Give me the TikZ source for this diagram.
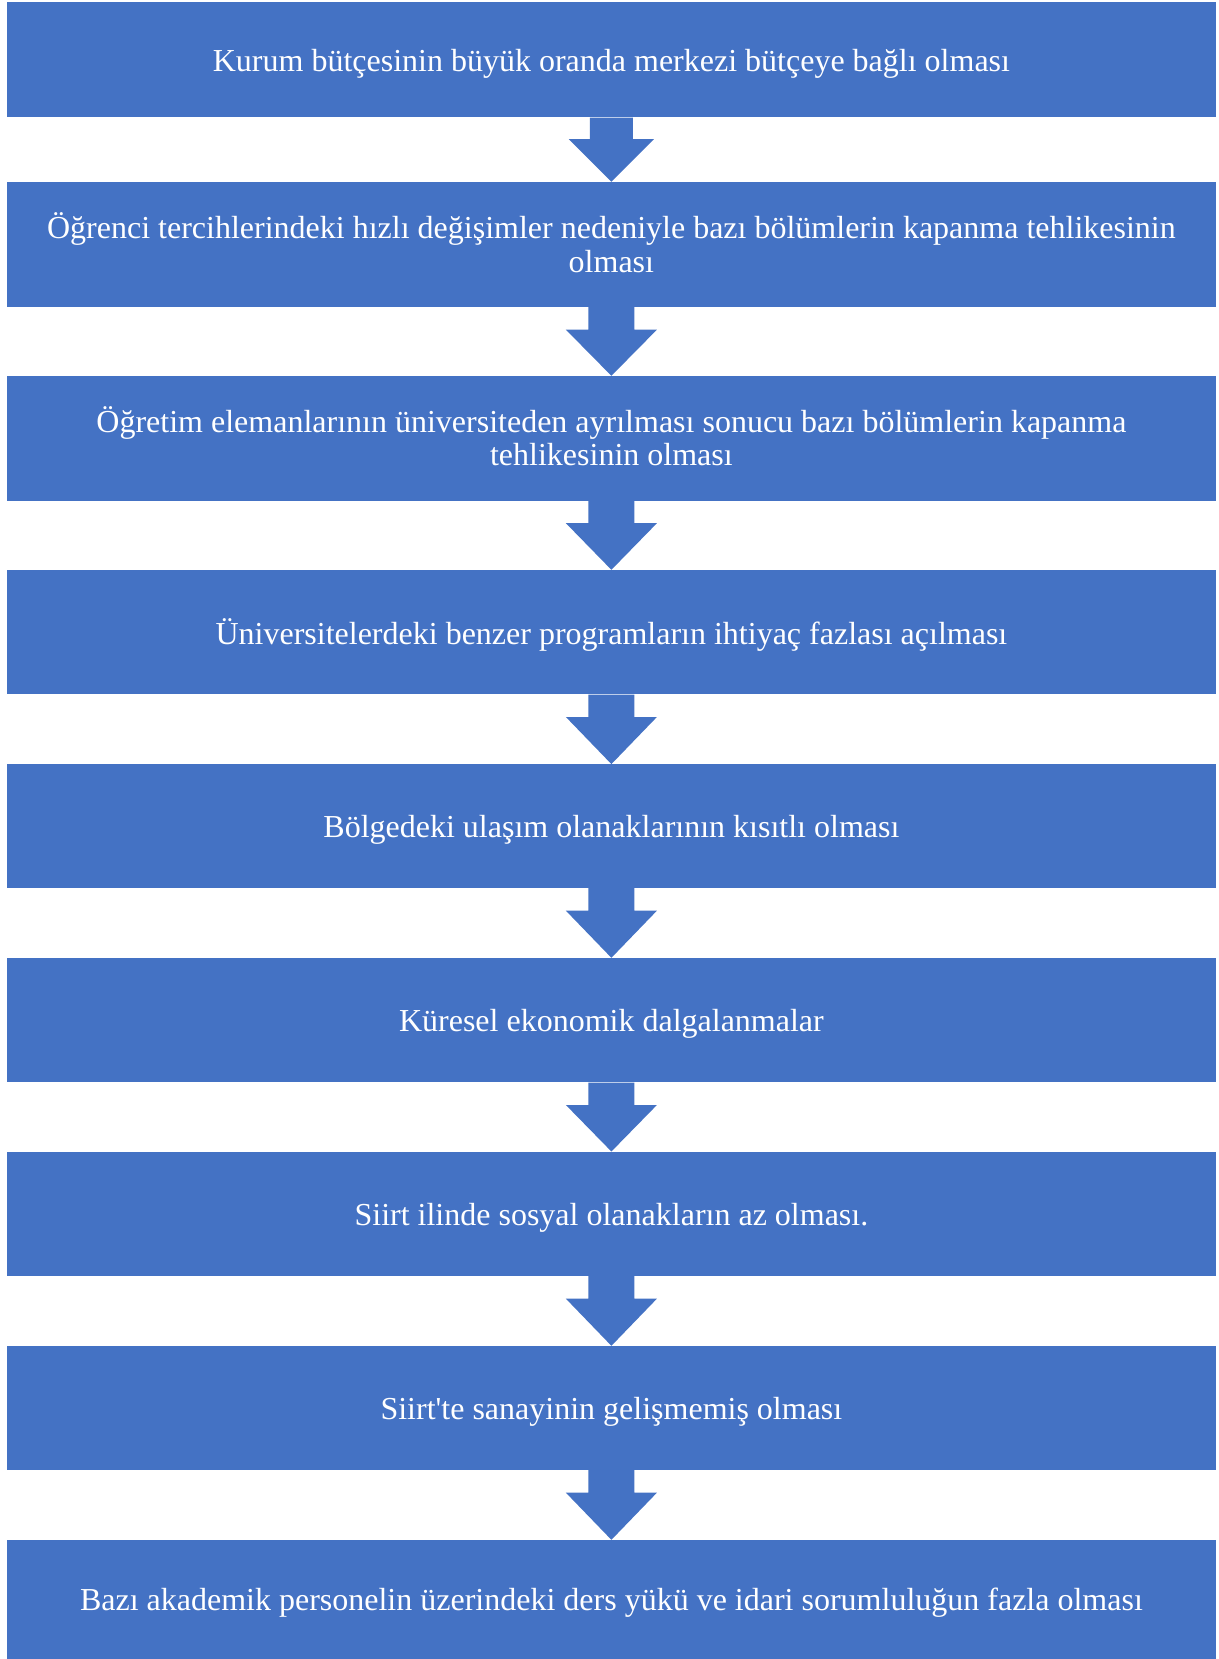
\documentclass[tikz,border=0pt]{standalone}
\usepackage{fontspec}
\setmainfont{Liberation Serif}[Ligatures=TeXOff]
\usetikzlibrary{calc}
\definecolor{boxblue}{HTML}{4472C4}
\begin{document}
\begin{tikzpicture}[x=1pt,y=-1pt,
  box/.style={rectangle, fill=boxblue, draw=none, inner sep=0pt, minimum width=1209.3pt},
  txt/.style={inner sep=0pt, text=white, align=center, font=\fontsize{32}{33.5}\selectfont},
  one/.style={txt, yshift=-4.5pt},
  two/.style={txt, yshift=-3pt},
  arrowfill/.style={fill=boxblue, draw=none}]
\useasboundingbox (0,0) rectangle (1218,1659);
\fill[white] (0,0) rectangle (1218,1659);
\node[box, minimum height=115.2pt] (b1) at (611.4,59.9) {};
\node[box, minimum height=125pt] (b2) at (611.4,244.5) {};
\node[box, minimum height=124.5pt] (b3) at (611.4,438.25) {};
\node[box, minimum height=124.3pt] (b4) at (611.4,632.15) {};
\node[box, minimum height=123.7pt] (b5) at (611.4,826.15) {};
\node[box, minimum height=124.3pt] (b6) at (611.4,1020.15) {};
\node[box, minimum height=124.3pt] (b7) at (611.4,1213.85) {};
\node[box, minimum height=124pt] (b8) at (611.4,1408) {};
\node[box, minimum height=119pt] (b9) at (611.4,1599.5) {};
\node[one] (t1) at (b1.center) {\strut Kurum bütçesinin büyük oranda merkezi bütçeye bağlı olması};
\node[two] (t2) at (b2.center) {\strut Öğrenci tercihlerindeki hızlı değişimler nedeniyle bazı bölümlerin kapanma tehlikesinin\\olması\strut};
\node[two] (t3) at (b3.center) {\strut Öğretim elemanlarının üniversiteden ayrılması sonucu bazı bölümlerin kapanma\\tehlikesinin olması\strut};
\node[one] (t4) at (b4.center) {\strut Üniversitelerdeki benzer programların ihtiyaç fazlası açılması};
\node[one] (t5) at (b5.center) {\strut Bölgedeki ulaşım olanaklarının kısıtlı olması};
\node[one] (t6) at (b6.center) {\strut Küresel ekonomik dalgalanmalar};
\node[one] (t7) at (b7.center) {\strut Siirt ilinde sosyal olanakların az olması.};
\node[one] (t8) at (b8.center) {\strut Siirt'te sanayinin gelişmemiş olması};
\node[one] (t9) at (b9.center) {\strut Bazı akademik personelin üzerindeki ders yükü ve idari sorumluluğun fazla olması};
% first arrow
\fill[arrowfill] ($(b1.south)+(-21.5,0)$) -- ($(b1.south)+(21.5,0)$) -- ($(b1.south)+(21.5,21.5)$)
  -- ($(b1.south)+(42.5,21.5)$) -- (b2.north) -- ($(b1.south)+(-42.5,21.5)$)
  -- ($(b1.south)+(-21.5,21.5)$) -- cycle;
% other arrows
\foreach \a/\b in {b2/b3,b3/b4,b4/b5,b5/b6,b6/b7,b7/b8,b8/b9}{
  \fill[arrowfill] ($(\a.south)+(-23,0)$) -- ($(\a.south)+(23,0)$) -- ($(\a.south)+(23,22.5)$)
    -- ($(\a.south)+(45.5,22.5)$) -- (\b.north) -- ($(\a.south)+(-45.5,22.5)$)
    -- ($(\a.south)+(-23,22.5)$) -- cycle;
}
\end{tikzpicture}
\end{document}
